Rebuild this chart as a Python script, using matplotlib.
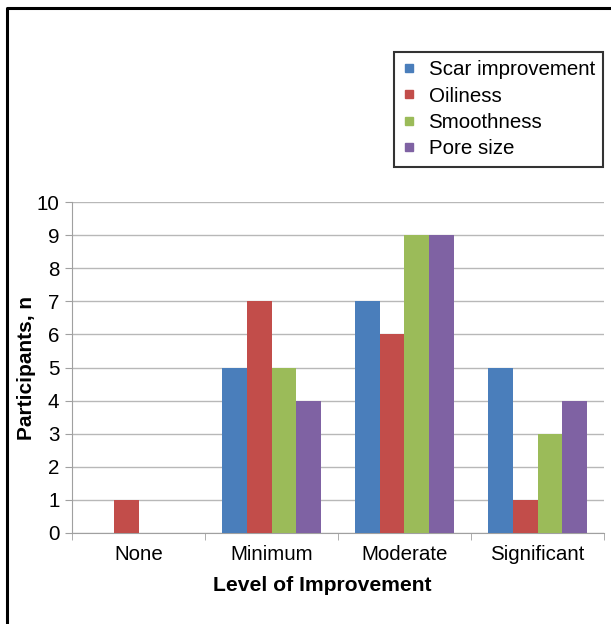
import matplotlib
matplotlib.use("Agg")
import matplotlib.pyplot as plt
import numpy as np
from matplotlib.lines import Line2D

categories = ["None", "Minimum", "Moderate", "Significant"]
series_names = ["Scar improvement", "Oiliness", "Smoothness", "Pore size"]
scar = [0, 5, 7, 5]
oiliness = [1, 7, 6, 1]
smoothness = [0, 5, 9, 3]
pore = [0, 4, 9, 4]
series = [scar, oiliness, smoothness, pore]
colors = ["#4A7EBB", "#C24D4A", "#9BBB59", "#7F62A3"]

plt.rcParams['font.family'] = ['Liberation Sans', 'DejaVu Sans']

W, H = 611, 624
fig = plt.figure(figsize=(W/100, H/100), dpi=100)
ax = fig.add_axes([72/W, 1-533/H, (604-72)/W, (533-202)/H])

x = np.arange(len(categories))
bw = 0.185
for i, (vals, c) in enumerate(zip(series, colors)):
    ax.bar(x + (i - 1.5) * bw, vals, width=bw, color=c, label=series_names[i], zorder=3)

ax.set_xlim(-0.5, 3.5)
ax.set_ylim(0, 10)
ax.set_yticks(range(0, 11))
ax.yaxis.grid(True, color="#b8b8b8", linewidth=1, zorder=0)
ax.set_xticks(x)
ax.set_xticklabels(categories, fontsize=14.8)
ax.set_xticks(np.arange(-0.5, 4, 1), minor=True)
ax.tick_params(axis='x', which='major', length=0, pad=9)
ax.tick_params(axis='x', which='minor', length=5, color="#a0a0a0")
ax.tick_params(axis='y', length=5, color="#a0a0a0", labelsize=14.8, pad=4)
for s in ["top", "right"]:
    ax.spines[s].set_visible(False)
for s in ["left", "bottom"]:
    ax.spines[s].set_color("#a0a0a0")

ax.set_xlabel("Level of Improvement", fontsize=15.2, fontweight="bold")
ax.xaxis.set_label_coords((322-72)/(604-72), -(576-533)/(533-202))
ax.set_ylabel("Participants, n", fontsize=15, fontweight="bold")
ax.yaxis.set_label_coords(-(72-36)/(604-72), 0.5)

handles = [Line2D([0], [0], marker='s', linestyle='none', markersize=6,
                  markerfacecolor=c, markeredgecolor=c) for c in colors]
leg = fig.legend(handles, series_names, loc='upper right',
                 bbox_to_anchor=(603/W, 1-52/H), fontsize=14.8,
                 frameon=True, fancybox=False, edgecolor='black',
                 handlelength=0.7, handletextpad=0.6, labelspacing=0.36,
                 borderpad=0.4, borderaxespad=0)
leg.get_frame().set_linewidth(1.5)

# Figure border (top and left visible)
fig.add_artist(Line2D([6.5/W, 6.5/W, 1.0], [0.0, 1-7.5/H, 1-7.5/H],
                      transform=fig.transFigure, color='black', linewidth=2.2))

fig.savefig("out.png", dpi=100)
